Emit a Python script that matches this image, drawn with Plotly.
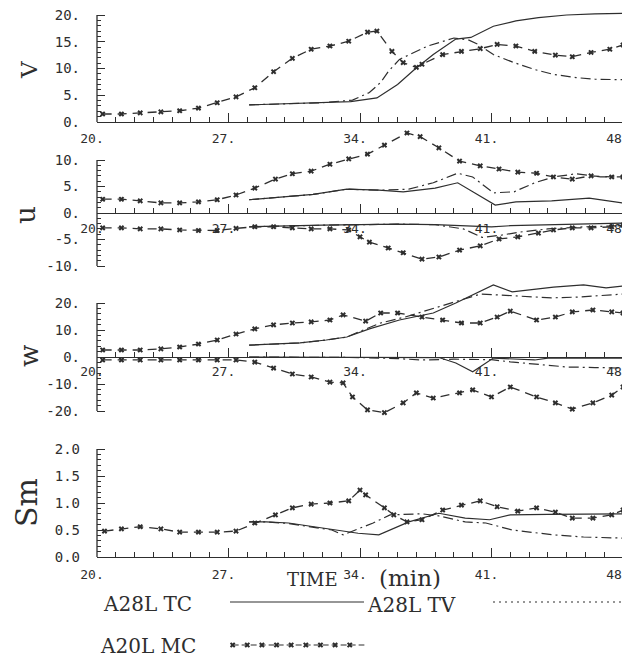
import plotly.graph_objects as go

# ------------------------------------------------------------------ data
# A20L MC (dashed with x markers)
mc_v_t = [20.3,21.3,22.3,23.4,24.4,25.4,26.4,27.4,28.4,29.4,30.4,31.4,32.4,33.4,34.4,34.9,35.7,36.3,37.0,37.3,38.4,39.4,40.4,41.3,42.3,43.3,44.4,45.3,46.3,47.3,48.0]
mc_v   = [1.5,1.5,1.7,1.9,2.1,2.6,3.6,4.7,6.4,9.4,11.9,13.6,14.2,15.1,16.8,17.0,13.2,11.1,10.2,10.8,12.6,13.2,13.7,14.5,14.2,13.2,12.5,12.2,13.0,13.6,14.4]

mc_up_t = [20.3,21.3,22.3,23.4,24.4,25.4,26.4,27.4,28.4,29.5,30.4,31.4,32.4,33.4,34.4,35.3,36.5,37.2,38.2,39.3,40.4,41.4,42.4,43.4,44.3,45.3,46.3,47.4,48.0]
mc_up   = [2.6,2.6,2.3,1.9,1.9,2.1,2.5,3.4,4.7,6.4,7.4,7.9,9.2,10.2,11.1,12.8,15.1,14.4,12.3,9.8,8.9,8.3,7.7,7.5,6.8,6.4,7.0,6.8,6.8]
mc_un_t = [20.3,21.3,22.3,23.4,24.4,25.4,26.4,27.4,28.4,29.4,30.4,31.4,32.4,33.4,34.0,34.5,35.5,36.3,37.3,38.2,39.3,40.4,41.4,42.4,43.5,44.3,45.3,46.3,47.4,48.0]
mc_un   = [-2.8,-2.8,-3.0,-3.0,-3.2,-3.3,-3.3,-2.9,-2.6,-2.6,-2.8,-3.0,-3.0,-3.2,-4.5,-5.5,-6.6,-7.5,-8.7,-8.3,-7.0,-6.2,-4.9,-4.5,-3.8,-3.2,-2.8,-2.8,-2.6,-2.3]

mc_wp_t = [20.3,21.3,22.3,23.4,24.4,25.4,26.4,27.4,28.4,29.4,30.4,31.4,32.4,33.1,34.3,35.1,36.0,37.3,38.4,39.4,40.4,41.3,42.0,43.4,44.4,45.3,46.4,47.4,48.0]
mc_wp   = [2.6,2.6,2.6,3.0,3.7,4.8,6.3,8.5,10.4,11.9,12.6,13.0,13.7,15.6,13.3,16.3,16.3,14.8,13.7,12.6,12.6,14.8,17.0,13.7,14.8,16.7,17.4,16.7,16.3]
mc_wn_t = [20.3,21.3,22.3,23.4,24.4,25.4,26.4,27.4,28.4,29.4,30.4,31.4,32.4,33.1,33.6,34.4,35.3,36.3,37.0,37.9,39.3,40.0,41.0,42.0,43.4,44.4,45.3,46.4,47.4,48.0]
mc_wn   = [-1.1,-1.1,-1.1,-1.1,-1.1,-1.1,-1.1,-1.1,-1.9,-4.1,-6.3,-7.4,-9.3,-9.6,-14.8,-19.6,-20.6,-17.0,-13.3,-15.2,-13.3,-12.2,-14.8,-11.1,-14.8,-17.0,-19.3,-17.0,-14.1,-11.1]

mc_sm_t = [20.4,21.3,22.3,23.4,24.4,25.4,26.4,27.4,28.4,29.5,30.4,31.4,32.4,33.4,34.0,34.3,35.3,35.8,36.5,37.3,38.4,39.4,40.4,41.3,42.4,43.4,44.4,45.3,46.4,47.4,48.0]
mc_sm   = [0.48,0.52,0.56,0.52,0.46,0.46,0.46,0.48,0.63,0.78,0.91,0.98,1.0,1.04,1.24,1.15,0.91,0.78,0.65,0.69,0.87,0.96,1.04,0.93,0.85,0.91,0.83,0.72,0.72,0.78,0.87]

# A28L TC (solid)
tc_v_t = [28.1,30.0,32.0,33.5,34.9,36.0,36.9,37.9,39.1,39.9,41.1,42.3,43.5,45.0,46.5,48.0]
tc_v   = [3.2,3.4,3.6,3.8,4.5,7.0,9.8,12.6,15.5,15.8,17.9,18.9,19.5,20.0,20.2,20.3]
tc_up_t = [28.1,30.0,31.5,33.3,35.0,36.3,38.0,39.2,41.2,42.3,44.2,46.2,48.0]
tc_up   = [2.5,3.1,3.5,4.5,4.3,4.0,4.7,5.7,1.5,2.1,2.3,2.8,1.9]
tc_un_t = [28.1,30.0,32.0,34.0,36.0,38.0,40.0,41.0,42.0,44.0,46.0,48.0]
tc_un   = [-2.6,-2.4,-2.3,-2.2,-2.1,-2.2,-2.5,-2.6,-2.4,-2.2,-2.0,-1.9]
tc_wp_t = [28.1,30.8,32.2,33.3,34.5,36.1,37.9,39.1,41.1,42.1,44.3,45.9,47.1,48.0]
tc_wp   = [4.4,5.2,6.3,7.4,10.4,13.7,16.3,20.0,26.7,24.1,25.9,26.7,25.6,26.3]
tc_wn_t = [28.1,30.0,32.0,34.0,36.0,38.2,39.1,40.0,41.1,42.0,43.3,44.0,46.0,48.0]
tc_wn   = [0.0,0.0,0.0,0.0,0.0,-0.2,-2.2,-5.5,-0.4,-0.8,-1.1,-0.4,-0.4,-0.4]
tc_sm_t = [28.1,29.0,30.2,31.2,32.5,33.9,35.0,36.6,38.2,39.6,40.9,42.0,44.0,46.0,48.0]
tc_sm   = [0.65,0.65,0.63,0.58,0.52,0.44,0.41,0.65,0.81,0.72,0.69,0.78,0.79,0.80,0.80]

# A28L TV (dash-dot)
tv_v_t = [28.1,30.0,32.0,33.6,34.5,35.1,35.5,36.1,37.6,39.0,39.8,40.3,41.1,42.2,43.3,44.3,45.5,46.5,48.0]
tv_v   = [3.2,3.4,3.6,4.1,5.5,7.4,9.4,11.7,14.2,15.7,15.3,14.5,12.6,11.1,9.8,8.9,8.3,8.0,7.9]
tv_up_t = [28.1,30.0,31.5,33.3,35.0,36.6,37.9,39.2,40.0,41.1,42.2,43.3,44.3,45.5,46.8,48.0]
tv_up   = [2.5,3.1,3.5,4.5,4.3,4.5,5.7,7.5,6.8,3.8,4.0,5.7,6.8,7.4,6.8,6.8]
tv_un_t = [28.1,30.0,32.0,34.0,36.0,38.0,39.5,40.5,41.5,42.5,44.0,46.0,48.0]
tv_un   = [-2.6,-2.4,-2.3,-2.2,-2.1,-2.2,-3.0,-4.6,-4.2,-3.6,-3.0,-2.6,-2.4]
tv_wp_t = [28.1,30.8,32.2,33.3,34.0,35.1,36.4,37.6,39.0,40.4,41.3,42.7,44.2,45.6,47.0,48.0]
tv_wp   = [4.4,5.2,6.3,7.4,9.5,12.6,14.8,17.4,20.4,23.3,23.0,22.6,21.9,22.2,23.0,23.3]
tv_wn_t = [28.1,30.0,32.0,34.0,36.0,37.3,39.0,41.0,42.0,43.3,45.0,46.5,48.0]
tv_wn   = [0.0,0.0,0.0,-0.2,-0.6,-1.1,-0.8,-1.0,-1.8,-2.6,-3.7,-3.9,-4.1]
tv_sm_t = [28.1,29.0,30.2,31.2,32.5,33.1,34.7,35.6,37.3,38.2,39.6,40.7,42.1,44.3,45.9,48.0]
tv_sm   = [0.65,0.65,0.62,0.57,0.50,0.41,0.63,0.78,0.80,0.76,0.65,0.63,0.50,0.41,0.37,0.35]

x_ticks = [20, 27, 34, 41, 48]
x_ticktext = ['20.', '27.', '34.', '41.', '48.']
x_minor = list(range(20, 49))

panel_titles = ['V', 'u', 'w', 'Sm']
y_ticks = [[0, 5, 10, 15, 20], [-10, -5, 0, 5, 10], [-20, -10, 0, 10, 20], [0, 0.5, 1.0, 1.5, 2.0]]
y_ticktext = [['0.', '5.', '10.', '15.', '20.'], ['-10.', '-5.', '0.', '5.', '10.'],
              ['-20.', '-10.', '0.', '10.', '20.'], ['0.0', '0.5', '1.0', '1.5', '2.0']]
y_minor = [list(range(0, 21)), list(range(-10, 11)), list(range(-20, 21, 2)),
           [i / 10 for i in range(0, 21)]]

legend_names = ['A28L TC', 'A28L TV', 'A20L MC']

# ------------------------------------------------------------------ layout helpers
# the page body has an 8px margin: shift all pixel targets so they land where intended
OX, OY = 8, 8
W, H = 630 - OX, 657 - OY
def px(x): return (x - OX) / W
def py(y): return 1 - (y - OY) / H

INK = '#2e2e2e'
X0, X1 = 97, 623
xdom = [px(X0), px(X1)]

# pixel geometry of each panel: zero line, px per unit, subplot extent, label standoff
geo = [
    dict(zero=122, scale=5.35, top=8, bot=127, xstand=4),
    dict(zero=213, scale=5.3, top=128, bot=275, xstand=3),
    dict(zero=357, scale=2.7, top=278, bot=420, xstand=2),
    dict(zero=557, scale=54.0, top=440, bot=565, xstand=5),
]

TC = dict(mode='lines', line=dict(color=INK, width=1.2))
TV = dict(mode='lines', line=dict(color=INK, width=1.2, dash='10px,4px,2px,4px'))
MC = dict(mode='lines+markers', line=dict(color=INK, width=1.3, dash='9px,6px'),
          marker=dict(symbol='x', size=5, color=INK))

series = [
    [(tc_v_t, tc_v, TC), (tv_v_t, tv_v, TV), (mc_v_t, mc_v, MC)],
    [(tc_up_t, tc_up, TC), (tv_up_t, tv_up, TV), (mc_up_t, mc_up, MC),
     (tc_un_t, tc_un, TC), (tv_un_t, tv_un, TV), (mc_un_t, mc_un, MC)],
    [(tc_wp_t, tc_wp, TC), (tv_wp_t, tv_wp, TV), (mc_wp_t, mc_wp, MC),
     (tc_wn_t, tc_wn, TC), (tv_wn_t, tv_wn, TV), (mc_wn_t, mc_wn, MC)],
    [(tc_sm_t, tc_sm, TC), (tv_sm_t, tv_sm, TV), (mc_sm_t, mc_sm, MC)],
]

fig = go.Figure()
shapes = []
layout = dict(width=W, height=H, margin=dict(l=0, r=0, t=0, b=0, autoexpand=False),
              paper_bgcolor='white', plot_bgcolor='rgba(0,0,0,0)', showlegend=False)
ytickfont = dict(family='DejaVu Sans Mono', size=14, color=INK)
xtickfont = dict(family='DejaVu Sans Mono', size=13, color=INK)

for k, g in enumerate(geo, start=1):
    sfx = '' if k == 1 else str(k)
    yr = [(g['zero'] - g['bot']) / g['scale'], (g['zero'] - g['top']) / g['scale']]
    for t, v, st in series[k - 1]:
        fig.add_trace(go.Scatter(x=t, y=v, xaxis='x' + sfx, yaxis='y' + sfx, **st))
    layout['xaxis' + sfx] = dict(
        domain=xdom, range=[20, 48], anchor='free', position=py(g['zero']),
        automargin=False, ticklabeloverflow='allow',
        showline=True, linecolor=INK, linewidth=1.3, showgrid=False, zeroline=False,
        ticks='inside', ticklen=9, tickwidth=1.2, tickcolor=INK,
        tickvals=x_ticks, ticktext=x_ticktext, tickfont=xtickfont,
        ticklabelstandoff=g['xstand'], ticklabelshift=-5,
        minor=dict(tickvals=x_minor, ticks='inside', ticklen=5, tickwidth=1, tickcolor=INK))
    layout['yaxis' + sfx] = dict(
        domain=[py(g['bot']), py(g['top'])], range=yr, anchor='x' + sfx,
        automargin=False, ticklabeloverflow='allow',
        showline=False, showgrid=False, zeroline=False,
        ticks='inside', ticklen=8, tickwidth=1.2, tickcolor=INK,
        tickvals=y_ticks[k - 1], ticktext=y_ticktext[k - 1], tickfont=ytickfont,
        ticklabelstandoff=16,
        minor=dict(tickvals=y_minor[k - 1], ticks='inside', ticklen=4, tickwidth=1, tickcolor=INK))
    shapes.append(dict(type='line', xref='x' + sfx + ' domain', yref='y' + sfx,
                       x0=0, x1=0, y0=min(y_ticks[k - 1]), y1=max(y_ticks[k - 1]),
                       line=dict(color=INK, width=1.3)))

serif = 'DejaVu Serif'

def ann(text, x, y, size, xanchor='center', angle=0):
    return dict(text=text, x=px(x), y=py(y), xref='paper', yref='paper', showarrow=False,
                xanchor=xanchor, yanchor='middle', textangle=angle,
                font=dict(family=serif, size=size, color=INK))

# y-axis titles (rotated, as in the original)
title_pos = [(29, 70, 23), (26, 215, 28), (29, 356, 26), (26, 503, 30)]
annotations = [ann(name, x, y, s, angle=-90) for name, (x, y, s) in zip(panel_titles, title_pos)]

annotations += [
    ann('TIME', 312, 579, 18),
    ann('(min)', 410, 578, 23),
    ann(legend_names[0], 101, 604, 20, xanchor='left'),
    ann(legend_names[1], 365, 605, 20, xanchor='left'),
    ann(legend_names[2], 98, 646, 20, xanchor='left'),
]

# legend keys
shapes += [
    dict(type='line', xref='paper', yref='paper', x0=px(230), x1=px(364), y0=py(602), y1=py(602),
         line=dict(color=INK, width=1.2)),
    dict(type='line', xref='paper', yref='paper', x0=px(493), x1=px(628), y0=py(602), y1=py(602),
         line=dict(color=INK, width=1.2, dash='2px,4px')),
]
key_x = [i / 9 for i in range(9)] + [1.0]
fig.add_trace(go.Scatter(x=key_x, y=[0.5] * len(key_x), xaxis='x5', yaxis='y5',
                         mode='lines+markers', line=dict(color=INK, width=1.2, dash='6px,3px'),
                         marker=dict(symbol='x', size=5, color=INK,
                                     opacity=[1] * 9 + [0]), hoverinfo='skip'))
layout['xaxis5'] = dict(domain=[px(230), px(367)], range=[-0.02, 1.02], visible=False,
                        anchor='y5', automargin=False)
layout['yaxis5'] = dict(domain=[py(653), py(637)], range=[0, 1], visible=False,
                        anchor='x5', automargin=False)

layout['shapes'] = shapes
layout['annotations'] = annotations
fig.update_layout(**layout)
fig.write_html('out.html')
